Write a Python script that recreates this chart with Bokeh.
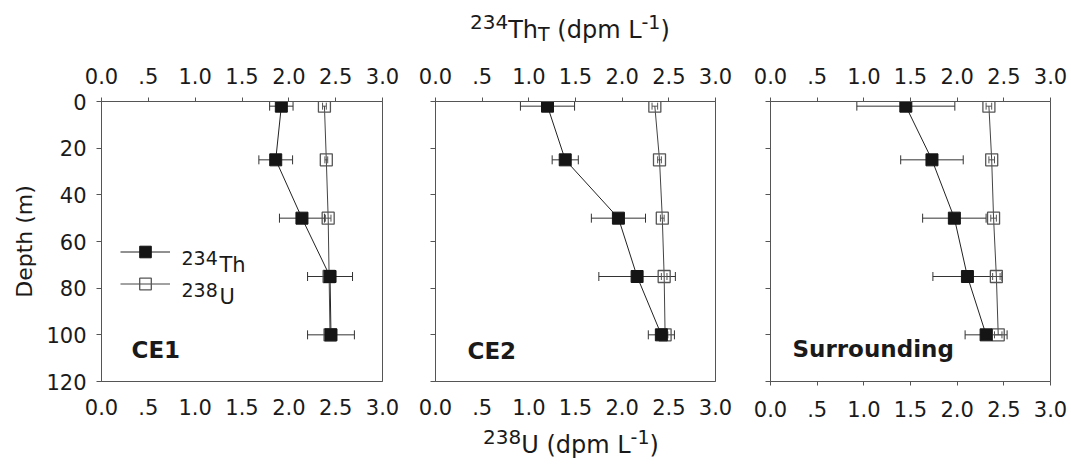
from bokeh.plotting import figure
from bokeh.models import (Range1d, LinearAxis, FixedTicker, CustomJSTickFormatter,
                          ColumnDataSource, Whisker, TeeHead, Label, Legend, LegendItem, Div)
from bokeh.layouts import row, column
from bokeh.embed import file_html
from bokeh.resources import INLINE

# ---------------- data ----------------
depth = [2, 25, 50, 75, 100]
panel_names = ["CE1", "CE2", "Surrounding"]

th_ce1 = [1.92, 1.86, 2.14, 2.44, 2.45]
th_ce1_err = [0.125, 0.18, 0.24, 0.24, 0.25]
u_ce1 = [2.38, 2.40, 2.42, 2.43, 2.44]
u_ce1_err = [0.02, 0.015, 0.03, 0.02, 0.02]

th_ce2 = [1.20, 1.39, 1.96, 2.16, 2.42]
th_ce2_err = [0.29, 0.14, 0.29, 0.41, 0.14]
u_ce2 = [2.35, 2.40, 2.43, 2.45, 2.46]
u_ce2_err = [0.03, 0.02, 0.02, 0.03, 0.03]

th_sur = [1.45, 1.73, 1.97, 2.11, 2.31]
th_sur_err = [0.525, 0.335, 0.34, 0.37, 0.225]
u_sur = [2.34, 2.37, 2.39, 2.42, 2.44]
u_sur_err = [0.03, 0.03, 0.03, 0.04, 0.04]

x_ticks = [0, 0.5, 1, 1.5, 2, 2.5, 3]
y_ticks = [0, 20, 40, 60, 80, 100, 120]

# ---------------- layout / style ----------------
FONT = "DejaVu Sans"
AX = "#555555"
TXT = "#1a1a1a"
W = 1070
TOPFIG_H = 56          # band holding the upper axis title
BOTFIG_Y = 425         # band holding the lower axis title
TOTAL_H = 464
PANEL_H = BOTFIG_Y - TOPFIG_H
FRAME_TOP = 101
FH = 280
FRAME_BOTTOM = FRAME_TOP + FH
B_TOP = FRAME_TOP - TOPFIG_H
B_BOT = BOTFIG_Y - FRAME_BOTTOM


def xfmt():
    return CustomJSTickFormatter(code="return tick == 0.5 ? '.5' : tick.toFixed(1);")


def add_text(p, frame_left, px, py, s, size, bold=False):
    p.add_layout(Label(x=px - frame_left, y=FRAME_BOTTOM - py,
                       x_units="screen", y_units="screen", text=s,
                       text_font=FONT, text_font_size=f"{size}px",
                       text_font_style="bold" if bold else "normal",
                       text_color=TXT, text_align="left",
                       text_baseline="alphabetic"))


def make_panel(idx, th, th_err, u, u_err, width, bl, br):
    p = figure(width=width, height=PANEL_H, x_range=Range1d(0, 3), y_range=Range1d(120, 0),
               output_backend="svg", toolbar_location=None, title=None,
               x_axis_location=None, y_axis_location=None,
               min_border_left=bl, min_border_right=br,
               min_border_top=B_TOP, min_border_bottom=B_BOT,
               background_fill_color="white", border_fill_color="white",
               outline_line_color=AX, outline_line_width=1)
    p.xgrid.visible = False
    p.ygrid.visible = False

    common = dict(axis_line_color=AX, axis_line_width=1, major_tick_line_color=AX,
                  minor_tick_line_color=None, major_label_text_font=FONT,
                  major_label_text_font_size="21px", major_label_text_color=TXT)

    top = LinearAxis(ticker=FixedTicker(ticks=x_ticks), formatter=xfmt(),
                     major_tick_out=4, major_tick_in=0, major_label_standoff=14, **common)
    p.add_layout(top, "above")

    bt_out = 4 if idx == 2 else 0
    bottom = LinearAxis(ticker=FixedTicker(ticks=x_ticks), formatter=xfmt(),
                        major_tick_out=bt_out, major_tick_in=0,
                        major_label_standoff=17 - bt_out + (2 if idx == 2 else 0), **common)
    p.add_layout(bottom, "below")

    left = LinearAxis(ticker=FixedTicker(ticks=y_ticks), major_tick_out=5, major_tick_in=0,
                      major_label_standoff=10, **common)
    if idx == 0:
        left.axis_label = "Depth (m)"
        left.axis_label_text_font = FONT
        left.axis_label_text_font_size = "22px"
        left.axis_label_text_font_style = "normal"
        left.axis_label_text_color = TXT
        left.axis_label_standoff = 6
    else:
        left.major_label_text_color = None
    p.add_layout(left, "left")

    src = ColumnDataSource(dict(
        depth=depth, th=th, u=u,
        th_lo=[a - b for a, b in zip(th, th_err)], th_hi=[a + b for a, b in zip(th, th_err)],
        u_lo=[a - b for a, b in zip(u, u_err)], u_hi=[a + b for a, b in zip(u, u_err)]))

    p.add_layout(Whisker(source=src, base="depth", lower="th_lo", upper="th_hi",
                         dimension="width", line_color="#333333", line_width=1,
                         lower_head=TeeHead(size=9, line_color="#333333", line_width=1),
                         upper_head=TeeHead(size=9, line_color="#333333", line_width=1)))
    p.add_layout(Whisker(source=src, base="depth", lower="u_lo", upper="u_hi",
                         dimension="width", line_color="#555555", line_width=1,
                         lower_head=TeeHead(size=7, line_color="#555555", line_width=1),
                         upper_head=TeeHead(size=7, line_color="#555555", line_width=1)))

    th_line = p.line("th", "depth", source=src, line_color="#222222", line_width=1)
    u_line = p.line("u", "depth", source=src, line_color="#444444", line_width=1)
    u_mark = p.scatter("u", "depth", source=src, marker="square", size=12,
                       fill_alpha=0, line_color="#555555", line_width=1.3)
    th_mark = p.scatter("th", "depth", source=src, marker="square", size=12,
                        fill_color="#151515", line_color="#151515")
    return p, (th_line, th_mark, u_line, u_mark)


# frame lefts: 101, 435, 770 ; frame width ~280
p1, r1 = make_panel(0, th_ce1, th_ce1_err, u_ce1, u_ce1_err, 408, 101, 26)
p2, r2 = make_panel(1, th_ce2, th_ce2_err, u_ce2, u_ce2_err, 335, 27, 28)
p3, r3 = make_panel(2, th_sur, th_sur_err, u_sur, u_sur_err, 327, 27, 20)

# legend keys drawn by Bokeh; labels as positioned texts with raised mass numbers
leg = Legend(items=[LegendItem(label=" ", renderers=[r1[0], r1[1]]),
                    LegendItem(label=" ", renderers=[r1[2], r1[3]])],
             location=(19, 83), glyph_width=50, glyph_height=29, spacing=3,
             padding=0, margin=0, label_standoff=0, label_width=1, label_height=29,
             border_line_color=None, background_fill_alpha=0,
             label_text_font_size="1px")
p1.add_layout(leg)

add_text(p1, 101, 181, 257, "234", 19)
add_text(p1, 101, 219, 264, "Th", 21)
add_text(p1, 101, 181, 289, "238", 19)
add_text(p1, 101, 219, 296, "U", 21)

add_text(p1, 101, 131, 349, panel_names[0], 23, bold=True)
add_text(p2, 435, 467, 350, panel_names[1], 23, bold=True)
add_text(p3, 770, 792, 348, panel_names[2], 23, bold=True)

# shared axis titles as HTML text with real superscripts / subscripts
SUP = "font-size:20px;position:relative;top:-9px"
SUP2 = "font-size:19px;position:relative;top:-9px"
SUB = "font-size:19px;position:relative;top:3px"
BOX = ("font-family:'DejaVu Sans';font-size:24px;line-height:24px;color:#1a1a1a;"
       "white-space:nowrap;margin:0;")

top_html = (f'<div style="{BOX}padding-left:470px;padding-top:18px">'
            f'<span style="{SUP}">234</span>Th<span style="{SUB}">T</span> '
            f'(dpm L<span style="{SUP2}">-1</span>)</div>')
bot_html = (f'<div style="{BOX}padding-left:483px;padding-top:8px">'
            f'<span style="{SUP}">238</span>U '
            f'(dpm L<span style="{SUP2}">-1</span>)</div>')

top_div = Div(text=top_html, width=W, height=TOPFIG_H, margin=0)
bot_div = Div(text=bot_html, width=W, height=TOTAL_H - BOTFIG_Y, margin=0)

layout = column(top_div, row(p1, p2, p3), bot_div)
open("out.html", "w").write(file_html(layout, INLINE))
